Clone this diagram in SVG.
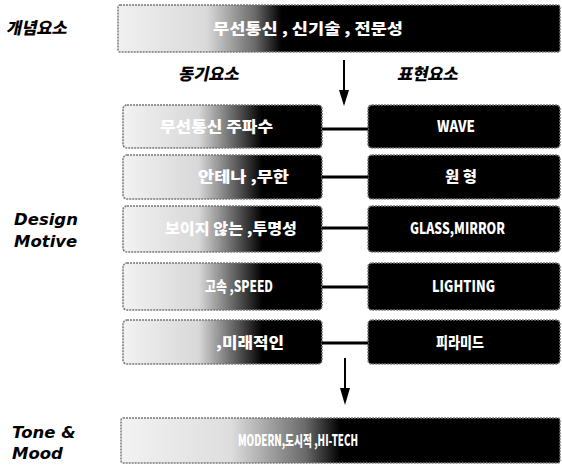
<svg xmlns="http://www.w3.org/2000/svg" width="562" height="469" viewBox="0 0 562 469">
<style>
.lbl{font-family:"Noto Sans CJK KR","Noto Sans",sans-serif;font-weight:900;font-size:16.5px;fill:#000}
.en{font-family:"DejaVu Sans",sans-serif;font-weight:bold;font-style:italic;font-size:16.5px;fill:#000}
.bt{font-family:"Noto Sans CJK KR","Liberation Sans",sans-serif;font-weight:900;font-size:15px;fill:#fff}
.box{stroke:#777;stroke-width:1.5;stroke-dasharray:2 1}
.conn{stroke:#000;stroke-width:3;fill:none}
.arr{stroke:#000;stroke-width:2}
</style>
<defs>
<linearGradient id="gTop" x1="0" y1="0" x2="1" y2="0">
<stop offset="0" stop-color="#f0f0f0"/><stop offset="0.2" stop-color="#dadada"/><stop offset="0.31" stop-color="#6a6a6a"/><stop offset="0.37" stop-color="#000"/><stop offset="1" stop-color="#000"/>
</linearGradient>
<linearGradient id="gLeft" x1="0" y1="0" x2="1" y2="0">
<stop offset="0" stop-color="#f2f2f2"/><stop offset="0.38" stop-color="#d8d8d8"/><stop offset="0.58" stop-color="#555"/><stop offset="0.7" stop-color="#000"/><stop offset="1" stop-color="#000"/>
</linearGradient>
<linearGradient id="gBot" x1="0" y1="0" x2="1" y2="0">
<stop offset="0" stop-color="#f2f2f2"/><stop offset="0.25" stop-color="#dedede"/><stop offset="0.42" stop-color="#6a6a6a"/><stop offset="0.5" stop-color="#000"/><stop offset="1" stop-color="#000"/>
</linearGradient>
</defs>

<g id="labels">
<text class="lbl" transform="translate(6,34) skewX(-12)">개념요소</text>
<text class="lbl" transform="translate(178,80) skewX(-12)">동기요소</text>
<text class="lbl" transform="translate(397,80) skewX(-12)">표현요소</text>
<text class="en" x="14" y="225">Design</text>
<text class="en" x="14" y="247">Motive</text>
<text class="en" x="12" y="438">Tone &amp;</text>
<text class="en" x="12" y="459">Mood</text>
</g>

<g id="concept">
<rect class="box" x="118" y="5" width="442" height="47" rx="2" fill="url(#gTop)"/>
<text class="bt" x="213" y="34" font-size="16" textLength="190" lengthAdjust="spacingAndGlyphs">무선통신 , 신기술 , 전문성</text>
</g>

<g id="m1"><rect class="box" x="123" y="105" width="199" height="43" rx="4" fill="url(#gLeft)"/><text class="bt" x="160" y="132" textLength="113" lengthAdjust="spacingAndGlyphs">무선통신 주파수</text></g>
<g id="m2"><rect class="box" x="123" y="155" width="199" height="44" rx="4" fill="url(#gLeft)"/><text class="bt" x="198" y="182" textLength="91" lengthAdjust="spacingAndGlyphs">안테나 ,무한</text></g>
<g id="m3"><rect class="box" x="123" y="206" width="199" height="46" rx="4" fill="url(#gLeft)"/><text class="bt" x="165" y="234" textLength="132" lengthAdjust="spacingAndGlyphs">보이지 않는 ,투명성</text></g>
<g id="m4"><rect class="box" x="123" y="263" width="199" height="47" rx="4" fill="url(#gLeft)"/><text class="bt" x="205" y="292" textLength="68" lengthAdjust="spacingAndGlyphs">고속 ,SPEED</text></g>
<g id="m5"><rect class="box" x="123" y="320" width="199" height="44" rx="4" fill="url(#gLeft)"/><text class="bt" x="216" y="348" textLength="68" lengthAdjust="spacingAndGlyphs">,미래적인</text></g>

<g id="e1"><rect class="box" x="368" y="105" width="192" height="43" rx="4" fill="#000"/><text class="bt" x="437" y="132" textLength="38" lengthAdjust="spacingAndGlyphs">WAVE</text></g>
<g id="e2"><rect class="box" x="368" y="155" width="192" height="44" rx="4" fill="#000"/><text class="bt" x="445" y="182" textLength="32" lengthAdjust="spacingAndGlyphs">원 형</text></g>
<g id="e3"><rect class="box" x="368" y="206" width="192" height="46" rx="4" fill="#000"/><text class="bt" x="410" y="234" textLength="95" lengthAdjust="spacingAndGlyphs">GLASS,MIRROR</text></g>
<g id="e4"><rect class="box" x="368" y="263" width="192" height="47" rx="4" fill="#000"/><text class="bt" x="432" y="292" textLength="63" lengthAdjust="spacingAndGlyphs">LIGHTING</text></g>
<g id="e5"><rect class="box" x="368" y="320" width="192" height="44" rx="4" fill="#000"/><text class="bt" x="436" y="348" textLength="48" lengthAdjust="spacingAndGlyphs">피라미드</text></g>

<g id="tone">
<rect class="box" x="121" y="418" width="439" height="45" rx="2" fill="url(#gBot)"/>
<text class="bt" x="238" y="446" textLength="120" lengthAdjust="spacingAndGlyphs">MODERN,도시적 ,HI-TECH</text>
</g>

<g id="connectors">
<line class="conn" x1="322" y1="129" x2="368" y2="129"/>
<line class="conn" x1="322" y1="177" x2="368" y2="177"/>
<line class="conn" x1="322" y1="228" x2="368" y2="228"/>
<line class="conn" x1="322" y1="287" x2="368" y2="287"/>
<line class="conn" x1="322" y1="343" x2="368" y2="343"/>
<line class="arr" x1="344" y1="60" x2="344" y2="92"/>
<polygon points="339,90 349,90 344,106" fill="#000"/>
<line class="arr" x1="345" y1="358" x2="345" y2="390"/>
<polygon points="340,388 350,388 345,405" fill="#000"/>
</g>
</svg>
